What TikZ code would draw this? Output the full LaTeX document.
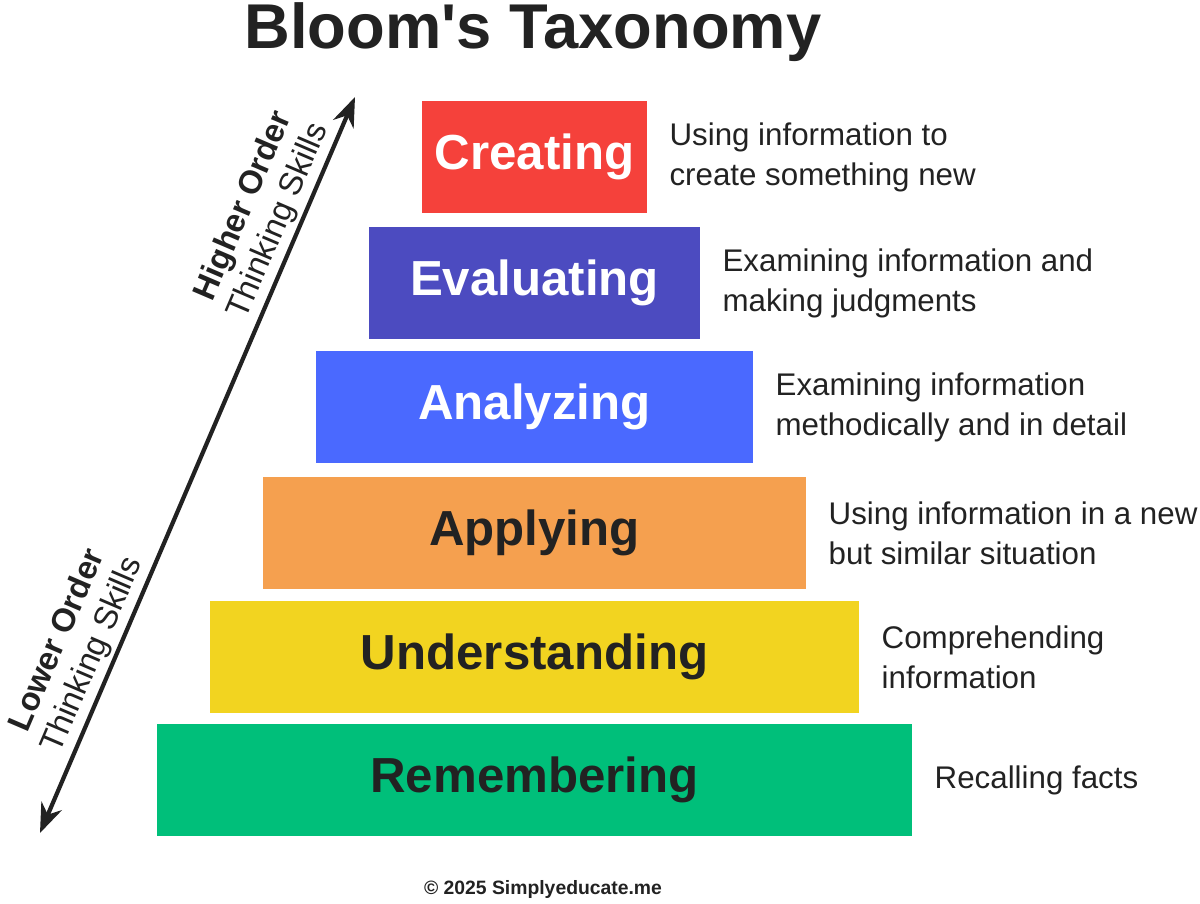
\documentclass[tikz,border=0pt]{standalone}
\usepackage{fontspec}
\setmainfont{Liberation Sans}
\usetikzlibrary{arrows.meta, positioning}
\definecolor{cCreate}{HTML}{F5413B}
\definecolor{cEval}{HTML}{4C4BC0}
\definecolor{cAnal}{HTML}{4A69FF}
\definecolor{cAppl}{HTML}{F5A04F}
\definecolor{cUnder}{HTML}{F2D420}
\definecolor{cRemem}{HTML}{00BF7A}
\definecolor{ink}{HTML}{222222}
\begin{document}
\begin{tikzpicture}[
            x={(0.01cm,0)}, y={(0,-0.01cm)},
            level/.style={rectangle, minimum height=1.12cm, inner sep=0pt,
              font=\fontsize{14}{16}\selectfont\bfseries},
            desc/.style={anchor=west, align=left, inner sep=0pt,
              font=\fontsize{8.9}{11.4}\selectfont, text=ink},
            >=Stealth
        ]
            \useasboundingbox (0,0) rectangle (1200,903);
            % title
            \node[font=\fontsize{18}{20}\selectfont\bfseries, text=ink] (title) at (533,32) {Bloom\textquotesingle s Taxonomy};

            % pyramid levels
            \node[level, fill=cCreate, text=white, minimum width=2.25cm] (L6) at (534.5,157) {Creating};
            \node[level, fill=cEval, text=white, minimum width=3.31cm] (L5) at (534.5,283) {Evaluating};
            \node[level, fill=cAnal, text=white, minimum width=4.37cm] (L4) at (534.5,407) {Analyzing};
            \node[level, fill=cAppl, text=ink, minimum width=5.43cm] (L3) at (534.5,533) {Applying};
            \node[level, fill=cUnder, text=ink, minimum width=6.49cm] (L2) at (534.5,657) {Understanding};
            \node[level, fill=cRemem, text=ink, minimum width=7.55cm] (L1) at (534.5,780) {Remembering};

            % descriptions
            \node[desc, right=6pt of L6] (D6) {Using information to\\create something new};
            \node[desc, right=6pt of L5] (D5) {Examining information and\\making judgments};
            \node[desc, right=6pt of L4] (D4) {Examining information\\methodically and in detail};
            \node[desc, right=6pt of L3] (D3) {Using information in a new\\but similar situation};
            \node[desc, right=6pt of L2] (D2) {Comprehending\\information};
            \node[desc, right=6pt of L1] (D1) {Recalling facts};

            % order arrow
            \coordinate (low) at (40,833);
            \coordinate (high) at (355,97);
            \draw[<->, line width=1.2pt, ink] (low) -- (high)
              node[pos=0.82, above=0pt, sloped, align=center, text=ink, inner sep=1pt,
                   font=\fontsize{9.3}{10.8}\selectfont] (hi) {\textbf{Higher Order}\\Thinking Skills}
              node[pos=0.23, above=0pt, sloped, align=center, text=ink, inner sep=1pt,
                   font=\fontsize{9.3}{10.8}\selectfont] (lo) {\textbf{Lower Order}\\Thinking Skills};

            % footer
            \node[font=\fontsize{5.5}{6}\selectfont\bfseries, text=ink] (foot) at (543,889) {© 2025 Simplyeducate.me};
        \end{tikzpicture}
\end{document}
